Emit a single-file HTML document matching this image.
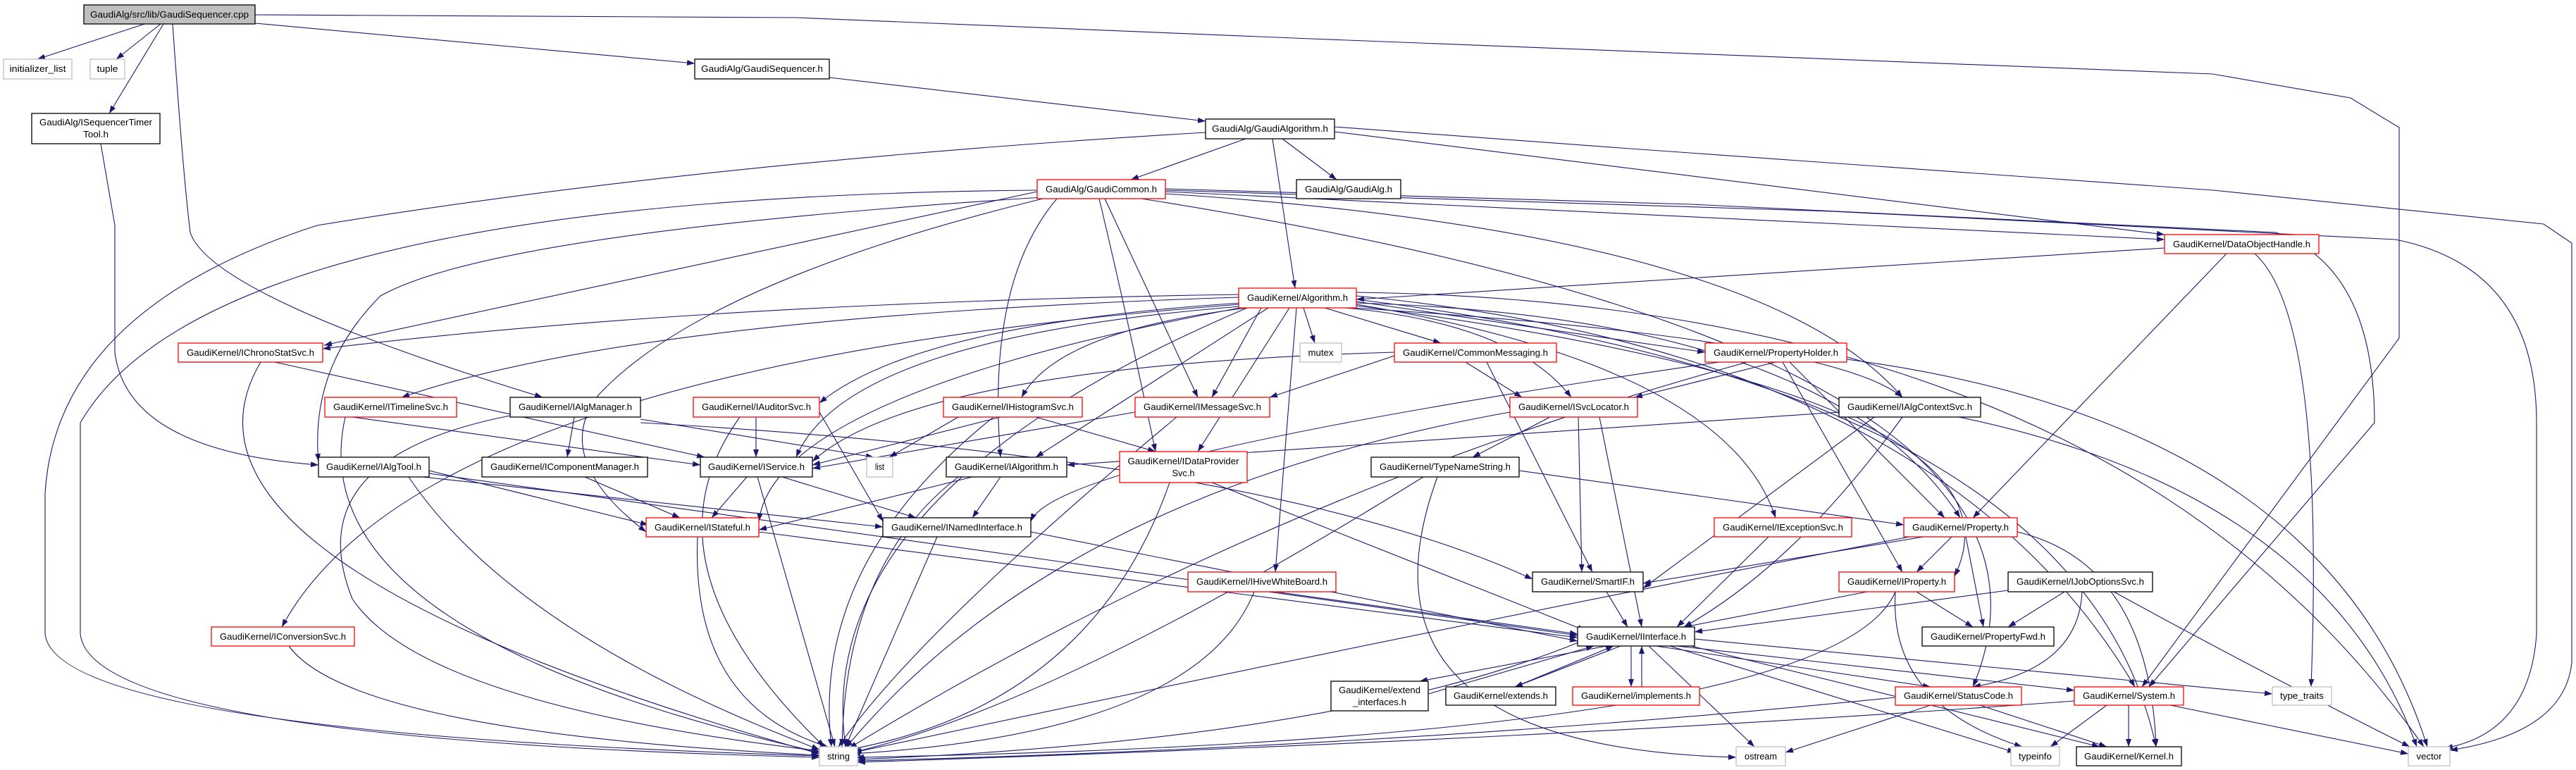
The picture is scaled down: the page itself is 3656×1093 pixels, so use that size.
<!DOCTYPE html>
<html><head><meta charset="utf-8"><style>
html,body{margin:0;padding:0;background:#fff;}
svg{display:block;}
text{font-family:"Liberation Sans",sans-serif;font-size:13px;fill:#000;}
.e{fill:none;stroke:#191970;stroke-width:1.1;marker-end:url(#a);}
.b{fill:#fff;stroke:#000;stroke-width:1.3;}
.r{fill:#fff;stroke:#f00;stroke-width:1.3;}
.g{fill:#fff;stroke:#bfbfbf;stroke-width:1.3;}
</style></head><body>
<svg width="3656" height="1093" viewBox="0 0 3656 1093" xmlns="http://www.w3.org/2000/svg">
<defs><marker id="a" markerWidth="11" markerHeight="8" refX="11" refY="4" orient="auto" markerUnits="userSpaceOnUse"><path d="M0,0 L11,4 L0,8 z" fill="#191970"/></marker></defs>
<g>
<path class="e" d="M205,34 L53,84"/>
<path class="e" d="M228,34 L165,84"/>
<path class="e" d="M232,34 L155,161"/>
<path class="e" d="M362,33 L986,90"/>
<path class="e" d="M245,34 Q260,250 270,330 Q300,420 770,564"/>
<path class="e" d="M362,21 L1130,25 L1860,55 L3140,105 L3336,139 L3405,181 L3405,480 L3040,975"/>
<path class="e" d="M143,204 L163,320 L163,500 Q180,640 452,660"/>
<path class="e" d="M1177,110 L1711,172"/>
<path class="e" d="M1768,197 L1605,255"/>
<path class="e" d="M1820,197 L1897,255"/>
<path class="e" d="M1806,197 L1838,409"/>
<path class="e" d="M1894,187 L3072,333"/>
<path class="e" d="M1894,180 L2300,210 L3141,270 L3610,318 L3650,345 L3650,940 Q3640,1040 3477,1065"/>
<path class="e" d="M1711,188 Q1000,230 450,320 Q80,440 64,700 L64,900 Q80,1040 1163,1073"/>
<path class="e" d="M1472,270 Q300,280 114,600 L114,900 Q130,1050 1163,1075"/>
<path class="e" d="M1472,272 L460,490"/>
<path class="e" d="M1480,280 Q700,330 540,420 Q440,520 452,655"/>
<path class="e" d="M1568,282 L1700,564"/>
<path class="e" d="M1654,272 L3072,340"/>
<path class="e" d="M1654,270 L2600,300 L3400,340 Q3600,380 3600,600 L3600,900 Q3590,1040 3470,1062"/>
<path class="e" d="M1654,268 L2400,290 L3230,330 Q3370,380 3370,600 L3050,975"/>
<path class="e" d="M1654,275 Q2500,330 2700,564"/>
<path class="e" d="M1500,282 Q1400,400 1420,649"/>
<path class="e" d="M1560,282 Q1600,450 1640,641"/>
<path class="e" d="M1620,282 Q3000,500 2800,975"/>
<path class="e" d="M1480,282 Q1000,400 850,560 Q780,650 917,755"/>
<path class="e" d="M3072,352 L1925,425"/>
<path class="e" d="M3160,360 L2800,735"/>
<path class="e" d="M3200,360 Q3300,450 3280,975"/>
<path class="e" d="M1758,418 Q1000,430 458,495"/>
<path class="e" d="M1758,422 Q900,450 570,564"/>
<path class="e" d="M1762,430 Q1300,460 1163,572"/>
<path class="e" d="M1770,437 Q1500,470 1450,564"/>
<path class="e" d="M1790,437 L1720,564"/>
<path class="e" d="M1850,437 L1866,487"/>
<path class="e" d="M1880,437 L2045,487"/>
<path class="e" d="M1925,428 L2420,500"/>
<path class="e" d="M1910,437 Q2150,460 2230,564"/>
<path class="e" d="M1920,437 Q2600,480 2700,564"/>
<path class="e" d="M1800,437 L1470,649"/>
<path class="e" d="M1760,435 Q1200,480 1130,649"/>
<path class="e" d="M1760,437 Q1100,560 1077,740"/>
<path class="e" d="M1760,432 Q600,520 400,890"/>
<path class="e" d="M1830,437 L1700,641"/>
<path class="e" d="M1925,432 Q2450,520 2520,735"/>
<path class="e" d="M1840,437 L1810,812"/>
<path class="e" d="M1925,430 Q2600,450 2782,735"/>
<path class="e" d="M1925,434 Q2900,560 2774,818"/>
<path class="e" d="M1925,420 Q2750,500 3030,975"/>
<path class="e" d="M1925,415 Q3000,430 3440,1060"/>
<path class="e" d="M1770,437 Q1150,700 1200,1060"/>
<path class="e" d="M1925,425 Q2950,550 3060,1060"/>
<path class="e" d="M1979,505 L1802,564"/>
<path class="e" d="M2080,514 L2160,564"/>
<path class="e" d="M1979,500 Q1300,520 1153,655"/>
<path class="e" d="M2110,514 L2260,812"/>
<path class="e" d="M2520,514 L2320,564"/>
<path class="e" d="M2530,514 L2700,812"/>
<path class="e" d="M2540,514 L2760,735"/>
<path class="e" d="M2480,514 Q1800,700 1205,1062"/>
<path class="e" d="M2440,514 Q1500,650 1463,740"/>
<path class="e" d="M2621,510 Q3300,600 3445,1060"/>
<path class="e" d="M390,514 L1000,649"/>
<path class="e" d="M370,514 Q200,800 1163,1070"/>
<path class="e" d="M500,592 L994,660"/>
<path class="e" d="M490,592 Q420,900 1163,1068"/>
<path class="e" d="M815,592 L805,649"/>
<path class="e" d="M909,595 L1240,649"/>
<path class="e" d="M909,600 Q1800,650 2175,822"/>
<path class="e" d="M724,590 Q420,650 500,850 Q600,1000 1163,1066"/>
<path class="e" d="M1073,592 L1073,649"/>
<path class="e" d="M1050,592 Q900,800 1170,1060"/>
<path class="e" d="M1163,585 L1253,740"/>
<path class="e" d="M1420,592 L1153,660"/>
<path class="e" d="M1360,592 L1262,649"/>
<path class="e" d="M1470,592 L1640,641"/>
<path class="e" d="M1410,592 Q1150,800 1180,1060"/>
<path class="e" d="M1611,585 L1153,665"/>
<path class="e" d="M1670,592 Q1300,900 1190,1060"/>
<path class="e" d="M2200,592 L2090,649"/>
<path class="e" d="M2240,592 L2245,812"/>
<path class="e" d="M2270,592 L2330,890"/>
<path class="e" d="M2143,585 Q1500,700 1200,1062"/>
<path class="e" d="M2610,585 L1514,660"/>
<path class="e" d="M2660,592 L2332,835"/>
<path class="e" d="M2700,592 Q2550,800 2390,890"/>
<path class="e" d="M2780,592 Q3300,700 3430,1060"/>
<path class="e" d="M609,668 L920,745"/>
<path class="e" d="M600,677 L1253,748"/>
<path class="e" d="M609,672 L2239,900"/>
<path class="e" d="M580,677 Q730,900 1163,1064"/>
<path class="e" d="M830,677 L965,735"/>
<path class="e" d="M1060,677 L1010,735"/>
<path class="e" d="M1110,677 L1300,735"/>
<path class="e" d="M1075,677 L1185,1060"/>
<path class="e" d="M1380,677 L1077,752"/>
<path class="e" d="M1420,677 L1380,735"/>
<path class="e" d="M1360,677 Q1200,800 1195,1060"/>
<path class="e" d="M1720,685 L2250,895"/>
<path class="e" d="M1660,685 Q1550,1000 1205,1064"/>
<path class="e" d="M2156,668 L2702,745"/>
<path class="e" d="M2020,677 Q1500,1000 1210,1068"/>
<path class="e" d="M2040,677 Q1900,1060 2464,1075"/>
<path class="e" d="M1077,755 L2239,905"/>
<path class="e" d="M990,762 Q980,1000 1175,1060"/>
<path class="e" d="M1463,755 L2239,910"/>
<path class="e" d="M1330,762 L1200,1060"/>
<path class="e" d="M2510,762 L2380,890"/>
<path class="e" d="M2770,762 L2720,812"/>
<path class="e" d="M2790,762 L2815,890"/>
<path class="e" d="M2730,762 L2332,828"/>
<path class="e" d="M2863,755 Q3050,800 3060,1060"/>
<path class="e" d="M2710,762 Q2000,900 1212,1068"/>
<path class="e" d="M1800,840 L2239,902"/>
<path class="e" d="M1780,840 Q1700,1040 1210,1070"/>
<path class="e" d="M2280,840 L2310,890"/>
<path class="e" d="M2650,840 L2390,890"/>
<path class="e" d="M2720,840 L2800,890"/>
<path class="e" d="M2690,840 Q2600,1050 1215,1075"/>
<path class="e" d="M2690,840 Q2680,1000 2870,1060"/>
<path class="e" d="M2930,840 L2850,890"/>
<path class="e" d="M2850,838 L2405,897"/>
<path class="e" d="M2955,840 Q2950,950 2800,975"/>
<path class="e" d="M3000,840 Q3200,950 3420,1060"/>
<path class="e" d="M410,917 Q500,1040 1163,1072"/>
<path class="e" d="M2280,917 L2015,967"/>
<path class="e" d="M2300,917 L2150,975"/>
<path class="e" d="M2315,917 L2315,975"/>
<path class="e" d="M2350,917 L2740,975"/>
<path class="e" d="M2380,917 L2944,980"/>
<path class="e" d="M2405,907 L3225,985"/>
<path class="e" d="M2340,917 L2490,1060"/>
<path class="e" d="M2370,917 L2860,1068"/>
<path class="e" d="M2400,917 L2980,1060"/>
<path class="e" d="M2240,912 Q1900,1050 1217,1078"/>
<path class="e" d="M2027,985 L2262,917"/>
<path class="e" d="M2150,975 L2290,917"/>
<path class="e" d="M2330,975 L2330,917"/>
<path class="e" d="M2740,1001 L2534,1068"/>
<path class="e" d="M2810,1001 L2990,1060"/>
<path class="e" d="M2690,990 Q2000,1060 1217,1080"/>
<path class="e" d="M2990,1001 L2910,1060"/>
<path class="e" d="M3021,1001 L3021,1060"/>
<path class="e" d="M3080,1001 L3418,1070"/>
<path class="e" d="M2944,995 Q2200,1050 1217,1082"/>
</g>
<g>
<rect x="119" y="7" width="243" height="27" fill="#bfbfbf" stroke="#000" stroke-width="1.3"/><text x="240.5" y="25" text-anchor="middle" textLength="225" lengthAdjust="spacingAndGlyphs">GaudiAlg/src/lib/GaudiSequencer.cpp</text>
<rect class="g" x="5" y="84" width="97" height="28"/><text x="53.5" y="102" text-anchor="middle" textLength="80" lengthAdjust="spacingAndGlyphs">initializer_list</text>
<rect class="g" x="128" y="84" width="49" height="28"/><text x="152.5" y="102" text-anchor="middle" textLength="30" lengthAdjust="spacingAndGlyphs">tuple</text>
<rect class="b" x="986" y="84" width="191" height="28"/><text x="1081.5" y="102" text-anchor="middle" textLength="173" lengthAdjust="spacingAndGlyphs">GaudiAlg/GaudiSequencer.h</text>
<rect class="b" x="45" y="161" width="182" height="43"/><text x="136" y="178" text-anchor="middle" textLength="160" lengthAdjust="spacingAndGlyphs">GaudiAlg/ISequencerTimer</text><text x="136" y="195" text-anchor="middle" textLength="36" lengthAdjust="spacingAndGlyphs">Tool.h</text>
<rect class="b" x="1711" y="169" width="183" height="28"/><text x="1802.5" y="187" text-anchor="middle" textLength="165" lengthAdjust="spacingAndGlyphs">GaudiAlg/GaudiAlgorithm.h</text>
<rect class="r" x="1472" y="255" width="182" height="27"/><text x="1563" y="273" text-anchor="middle" textLength="158" lengthAdjust="spacingAndGlyphs">GaudiAlg/GaudiCommon.h</text>
<rect class="b" x="1840" y="255" width="148" height="27"/><text x="1914" y="273" text-anchor="middle" textLength="124" lengthAdjust="spacingAndGlyphs">GaudiAlg/GaudiAlg.h</text>
<rect class="r" x="3072" y="333" width="219" height="27"/><text x="3181.5" y="351" text-anchor="middle" textLength="195" lengthAdjust="spacingAndGlyphs">GaudiKernel/DataObjectHandle.h</text>
<rect class="r" x="1758" y="409" width="167" height="28"/><text x="1841.5" y="427" text-anchor="middle" textLength="143" lengthAdjust="spacingAndGlyphs">GaudiKernel/Algorithm.h</text>
<rect class="r" x="253" y="487" width="205" height="27"/><text x="355.5" y="505" text-anchor="middle" textLength="181" lengthAdjust="spacingAndGlyphs">GaudiKernel/IChronoStatSvc.h</text>
<rect class="g" x="1845" y="487" width="59" height="27"/><text x="1874.5" y="505" text-anchor="middle" textLength="36" lengthAdjust="spacingAndGlyphs">mutex</text>
<rect class="r" x="1979" y="487" width="230" height="27"/><text x="2094" y="505" text-anchor="middle" textLength="206" lengthAdjust="spacingAndGlyphs">GaudiKernel/CommonMessaging.h</text>
<rect class="r" x="2420" y="487" width="201" height="27"/><text x="2520.5" y="505" text-anchor="middle" textLength="177" lengthAdjust="spacingAndGlyphs">GaudiKernel/PropertyHolder.h</text>
<rect class="r" x="461" y="564" width="187" height="28"/><text x="554.5" y="582" text-anchor="middle" textLength="163" lengthAdjust="spacingAndGlyphs">GaudiKernel/ITimelineSvc.h</text>
<rect class="b" x="724" y="564" width="185" height="28"/><text x="816.5" y="582" text-anchor="middle" textLength="161" lengthAdjust="spacingAndGlyphs">GaudiKernel/IAlgManager.h</text>
<rect class="r" x="984" y="564" width="179" height="28"/><text x="1073.5" y="582" text-anchor="middle" textLength="155" lengthAdjust="spacingAndGlyphs">GaudiKernel/IAuditorSvc.h</text>
<rect class="r" x="1339" y="564" width="197" height="28"/><text x="1437.5" y="582" text-anchor="middle" textLength="173" lengthAdjust="spacingAndGlyphs">GaudiKernel/IHistogramSvc.h</text>
<rect class="r" x="1611" y="564" width="191" height="28"/><text x="1706.5" y="582" text-anchor="middle" textLength="167" lengthAdjust="spacingAndGlyphs">GaudiKernel/IMessageSvc.h</text>
<rect class="r" x="2143" y="564" width="181" height="28"/><text x="2233.5" y="582" text-anchor="middle" textLength="157" lengthAdjust="spacingAndGlyphs">GaudiKernel/ISvcLocator.h</text>
<rect class="b" x="2610" y="564" width="201" height="28"/><text x="2710.5" y="582" text-anchor="middle" textLength="177" lengthAdjust="spacingAndGlyphs">GaudiKernel/IAlgContextSvc.h</text>
<rect class="b" x="452" y="649" width="157" height="28"/><text x="530.5" y="667" text-anchor="middle" textLength="135" lengthAdjust="spacingAndGlyphs">GaudiKernel/IAlgTool.h</text>
<rect class="b" x="684" y="649" width="235" height="28"/><text x="801.5" y="667" text-anchor="middle" textLength="211" lengthAdjust="spacingAndGlyphs">GaudiKernel/IComponentManager.h</text>
<rect class="b" x="994" y="649" width="159" height="28"/><text x="1073.5" y="667" text-anchor="middle" textLength="137" lengthAdjust="spacingAndGlyphs">GaudiKernel/IService.h</text>
<rect class="g" x="1230" y="649" width="37" height="28"/><text x="1248.5" y="667" text-anchor="middle" textLength="13" lengthAdjust="spacingAndGlyphs">list</text>
<rect class="b" x="1343" y="649" width="171" height="28"/><text x="1428.5" y="667" text-anchor="middle" textLength="147" lengthAdjust="spacingAndGlyphs">GaudiKernel/IAlgorithm.h</text>
<rect class="r" x="1589" y="641" width="181" height="44"/><text x="1679.5" y="659" text-anchor="middle" textLength="158" lengthAdjust="spacingAndGlyphs">GaudiKernel/IDataProvider</text><text x="1679.5" y="676" text-anchor="middle" textLength="32" lengthAdjust="spacingAndGlyphs">Svc.h</text>
<rect class="b" x="1946" y="649" width="210" height="28"/><text x="2051" y="667" text-anchor="middle" textLength="186" lengthAdjust="spacingAndGlyphs">GaudiKernel/TypeNameString.h</text>
<rect class="r" x="917" y="735" width="160" height="27"/><text x="997" y="753" text-anchor="middle" textLength="136" lengthAdjust="spacingAndGlyphs">GaudiKernel/IStateful.h</text>
<rect class="b" x="1253" y="735" width="210" height="27"/><text x="1358" y="753" text-anchor="middle" textLength="186" lengthAdjust="spacingAndGlyphs">GaudiKernel/INamedInterface.h</text>
<rect class="r" x="2433" y="735" width="195" height="27"/><text x="2530.5" y="753" text-anchor="middle" textLength="171" lengthAdjust="spacingAndGlyphs">GaudiKernel/IExceptionSvc.h</text>
<rect class="r" x="2702" y="735" width="161" height="27"/><text x="2782.5" y="753" text-anchor="middle" textLength="137" lengthAdjust="spacingAndGlyphs">GaudiKernel/Property.h</text>
<rect class="r" x="1686" y="812" width="210" height="28"/><text x="1791" y="830" text-anchor="middle" textLength="186" lengthAdjust="spacingAndGlyphs">GaudiKernel/IHiveWhiteBoard.h</text>
<rect class="b" x="2175" y="812" width="157" height="28"/><text x="2253.5" y="830" text-anchor="middle" textLength="133" lengthAdjust="spacingAndGlyphs">GaudiKernel/SmartIF.h</text>
<rect class="r" x="2610" y="812" width="164" height="28"/><text x="2692" y="830" text-anchor="middle" textLength="140" lengthAdjust="spacingAndGlyphs">GaudiKernel/IProperty.h</text>
<rect class="b" x="2850" y="812" width="205" height="28"/><text x="2952.5" y="830" text-anchor="middle" textLength="181" lengthAdjust="spacingAndGlyphs">GaudiKernel/IJobOptionsSvc.h</text>
<rect class="r" x="300" y="890" width="203" height="27"/><text x="401.5" y="908" text-anchor="middle" textLength="179" lengthAdjust="spacingAndGlyphs">GaudiKernel/IConversionSvc.h</text>
<rect class="b" x="2239" y="890" width="166" height="27"/><text x="2322" y="908" text-anchor="middle" textLength="142" lengthAdjust="spacingAndGlyphs">GaudiKernel/IInterface.h</text>
<rect class="b" x="2728" y="890" width="187" height="27"/><text x="2821.5" y="908" text-anchor="middle" textLength="163" lengthAdjust="spacingAndGlyphs">GaudiKernel/PropertyFwd.h</text>
<rect class="b" x="1889" y="967" width="138" height="42"/><text x="1958" y="984" text-anchor="middle" textLength="116" lengthAdjust="spacingAndGlyphs">GaudiKernel/extend</text><text x="1958" y="1001" text-anchor="middle" textLength="76" lengthAdjust="spacingAndGlyphs">_interfaces.h</text>
<rect class="b" x="2052" y="975" width="156" height="26"/><text x="2130" y="992" text-anchor="middle" textLength="134" lengthAdjust="spacingAndGlyphs">GaudiKernel/extends.h</text>
<rect class="r" x="2232" y="975" width="180" height="26"/><text x="2322" y="992" text-anchor="middle" textLength="156" lengthAdjust="spacingAndGlyphs">GaudiKernel/implements.h</text>
<rect class="r" x="2690" y="975" width="179" height="26"/><text x="2779.5" y="992" text-anchor="middle" textLength="155" lengthAdjust="spacingAndGlyphs">GaudiKernel/StatusCode.h</text>
<rect class="r" x="2944" y="975" width="155" height="26"/><text x="3021.5" y="992" text-anchor="middle" textLength="131" lengthAdjust="spacingAndGlyphs">GaudiKernel/System.h</text>
<rect class="g" x="3225" y="975" width="84" height="26"/><text x="3267" y="992" text-anchor="middle" textLength="62" lengthAdjust="spacingAndGlyphs">type_traits</text>
<rect class="g" x="1163" y="1060" width="54" height="27"/><text x="1190" y="1078" text-anchor="middle" textLength="32" lengthAdjust="spacingAndGlyphs">string</text>
<rect class="g" x="2464" y="1060" width="70" height="27"/><text x="2499" y="1078" text-anchor="middle" textLength="46" lengthAdjust="spacingAndGlyphs">ostream</text>
<rect class="g" x="2854" y="1060" width="69" height="27"/><text x="2888.5" y="1078" text-anchor="middle" textLength="47" lengthAdjust="spacingAndGlyphs">typeinfo</text>
<rect class="b" x="2947" y="1060" width="149" height="27"/><text x="3021.5" y="1078" text-anchor="middle" textLength="127" lengthAdjust="spacingAndGlyphs">GaudiKernel/Kernel.h</text>
<rect class="g" x="3418" y="1060" width="59" height="27"/><text x="3447.5" y="1078" text-anchor="middle" textLength="36" lengthAdjust="spacingAndGlyphs">vector</text>
</g>
</svg>
</body></html>
